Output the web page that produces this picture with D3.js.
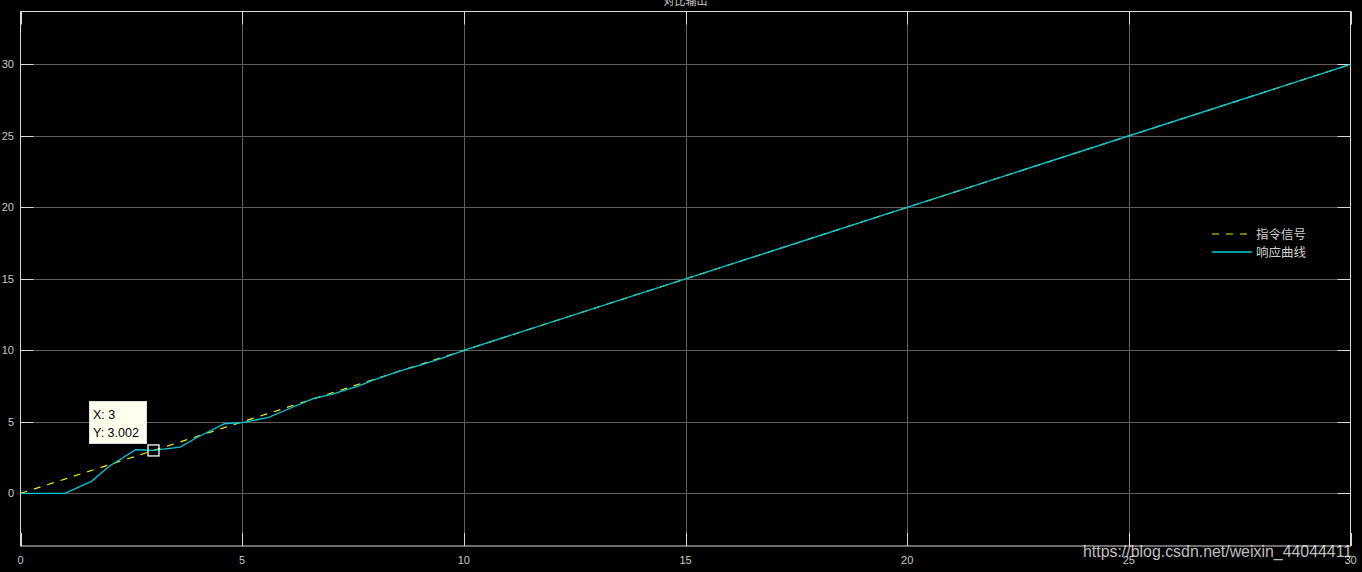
<!DOCTYPE html>
<html><head><meta charset="utf-8">
<script src="https://cdn.jsdelivr.net/npm/d3@7"></script>
<style>html,body{margin:0;padding:0;background:#000;}svg{display:block;}</style>
</head><body>
<svg id="c" width="1362" height="572"></svg>
<script>
const title = "对比输出";
const xTicks = [0, 5, 10, 15, 20, 25, 30];
const yTicks = [0, 5, 10, 15, 20, 25, 30];
const commandX = [0, 30];
const commandY = [0, 30];
const responseX = [0, 1.0, 1.6, 2.0, 2.6, 3.0, 3.6, 4.0, 4.6, 5.0, 5.6, 6.0, 6.6, 7.0, 7.6, 8.0, 8.6, 9.0, 9.6, 10, 20, 30];
const responseY = [0, 0, 0.84, 1.9, 3.05, 3.002, 3.24, 3.94, 4.87, 4.95, 5.32, 5.85, 6.62, 6.9, 7.48, 7.98, 8.6, 8.95, 9.55, 10, 20, 30];
const legendLabels = ["指令信号", "响应曲线"];
const tipX = 3, tipY = 3.002;
const watermark = "https://blog.csdn.net/weixin_44044411";

const svg = d3.select("#c");
const L = 20.5, R = 1350.5, T = 11.5, B = 546;
const x = d3.scaleLinear().domain([0, 30]).range([L, R]);
const y = d3.scaleLinear().domain([-3.68, 33.7]).range([B, T]);

svg.append("rect").attr("width", 1362).attr("height", 572).attr("fill", "#000");

// grid
const g = svg.append("g");
g.selectAll(".gx").data(xTicks.filter(d => d > 0 && d < 30)).enter().append("line")
  .attr("x1", d => Math.round(x(d)) + 0.5).attr("x2", d => Math.round(x(d)) + 0.5)
  .attr("y1", T).attr("y2", B).attr("stroke", "#5e5e5e").attr("stroke-width", 1);
g.selectAll(".gy").data(yTicks).enter().append("line")
  .attr("x1", L).attr("x2", R)
  .attr("y1", d => Math.round(y(d)) + 0.5).attr("y2", d => Math.round(y(d)) + 0.5)
  .attr("stroke", "#5e5e5e").attr("stroke-width", 1);

// tick marks (inward)
const tickC = "#d9d9d9";
g.selectAll(".tx").data(xTicks).enter().append("line")
  .attr("x1", d => Math.round(x(d)) + 0.5).attr("x2", d => Math.round(x(d)) + 0.5)
  .attr("y1", B).attr("y2", B - 13).attr("stroke", tickC);
g.selectAll(".tx2").data(xTicks).enter().append("line")
  .attr("x1", d => Math.round(x(d)) + 0.5).attr("x2", d => Math.round(x(d)) + 0.5)
  .attr("y1", T).attr("y2", T + 13).attr("stroke", tickC);
g.selectAll(".ty").data(yTicks).enter().append("line")
  .attr("x1", L).attr("x2", L + 13)
  .attr("y1", d => Math.round(y(d)) + 0.5).attr("y2", d => Math.round(y(d)) + 0.5).attr("stroke", tickC);
g.selectAll(".ty2").data(yTicks).enter().append("line")
  .attr("x1", R).attr("x2", R - 13)
  .attr("y1", d => Math.round(y(d)) + 0.5).attr("y2", d => Math.round(y(d)) + 0.5).attr("stroke", tickC);

// box
svg.append("rect").attr("x", L).attr("y", T).attr("width", R - L).attr("height", B - T)
  .attr("fill", "none").attr("stroke", "#d9d9d9").attr("stroke-width", 1);

// tick labels
const font = "'Liberation Sans', Arial, sans-serif";
svg.selectAll(".xl").data(xTicks).enter().append("text")
  .attr("x", d => x(d)).attr("y", 564).attr("text-anchor", "middle")
  .attr("font-family", font).attr("font-size", 11).attr("fill", "#c8c8c8").text(d => d);
svg.selectAll(".yl").data(yTicks).enter().append("text")
  .attr("x", 14).attr("y", d => y(d) + 4).attr("text-anchor", "end")
  .attr("font-family", font).attr("font-size", 11).attr("fill", "#c8c8c8").text(d => d);

// title
svg.append("text").attr("x", (L + R) / 2).attr("y", 5).attr("text-anchor", "middle")
  .attr("font-family", "'Noto Sans CJK SC', sans-serif").attr("font-size", 11).attr("fill", "#c8c8c8").text(title);

// lines
const line = d3.line().x(d => x(d[0])).y(d => y(d[1]));
const cmd = commandX.map((v, i) => [v, commandY[i]]);
const resp = responseX.map((v, i) => [v, responseY[i]]);
const clip = svg.append("clipPath").attr("id", "clp").append("rect")
  .attr("x", L).attr("y", T).attr("width", R - L).attr("height", B - T);
svg.append("path").attr("d", line(cmd)).attr("fill", "none").attr("stroke", "#f0f000")
  .attr("stroke-width", 1.2).attr("stroke-dasharray", "7,7").attr("clip-path", "url(#clp)");
svg.append("path").attr("d", line(resp)).attr("fill", "none").attr("stroke", "#00c8d8")
  .attr("stroke-width", 1.3).attr("clip-path", "url(#clp)");

// legend
const lg = svg.append("g");
const lx1 = 1212, lx2 = 1252, ly = [234, 252];
lg.append("line").attr("x1", lx1).attr("x2", lx2).attr("y1", ly[0]).attr("y2", ly[0])
  .attr("stroke", "#f0f000").attr("stroke-width", 1.2).attr("stroke-dasharray", "7,7");
lg.append("line").attr("x1", lx1).attr("x2", lx2).attr("y1", ly[1]).attr("y2", ly[1])
  .attr("stroke", "#00c8d8").attr("stroke-width", 1.3);
lg.selectAll("text").data(legendLabels).enter().append("text")
  .attr("x", 1256).attr("y", (d, i) => ly[i] + 5)
  .attr("font-family", "'Noto Sans CJK SC', sans-serif").attr("font-size", 12.5).attr("fill", "#cfcfcf").text(d => d);

// datatip
svg.append("rect").attr("x", x(tipX) - 5.5).attr("y", y(tipY) - 5.5).attr("width", 11).attr("height", 11)
  .attr("fill", "none").attr("stroke", "#fff").attr("stroke-width", 1.3);
const tip = svg.append("g");
tip.append("rect").attr("x", 89.5).attr("y", 401.5).attr("width", 57).attr("height", 42)
  .attr("fill", "#ffffee").attr("stroke", "#dddddd");
tip.append("text").attr("x", 93).attr("y", 419).attr("font-family", font).attr("font-size", 12.5)
  .attr("fill", "#000").text("X: " + tipX);
tip.append("text").attr("x", 93).attr("y", 437).attr("font-family", font).attr("font-size", 12.5)
  .attr("fill", "#000").text("Y: " + tipY);

// watermark
svg.append("text").attr("x", 1083).attr("y", 557).attr("font-family", font).attr("font-size", 15.9)
  .attr("fill", "#ffffff").attr("fill-opacity", 0.75).text(watermark);
</script>
</body></html>
